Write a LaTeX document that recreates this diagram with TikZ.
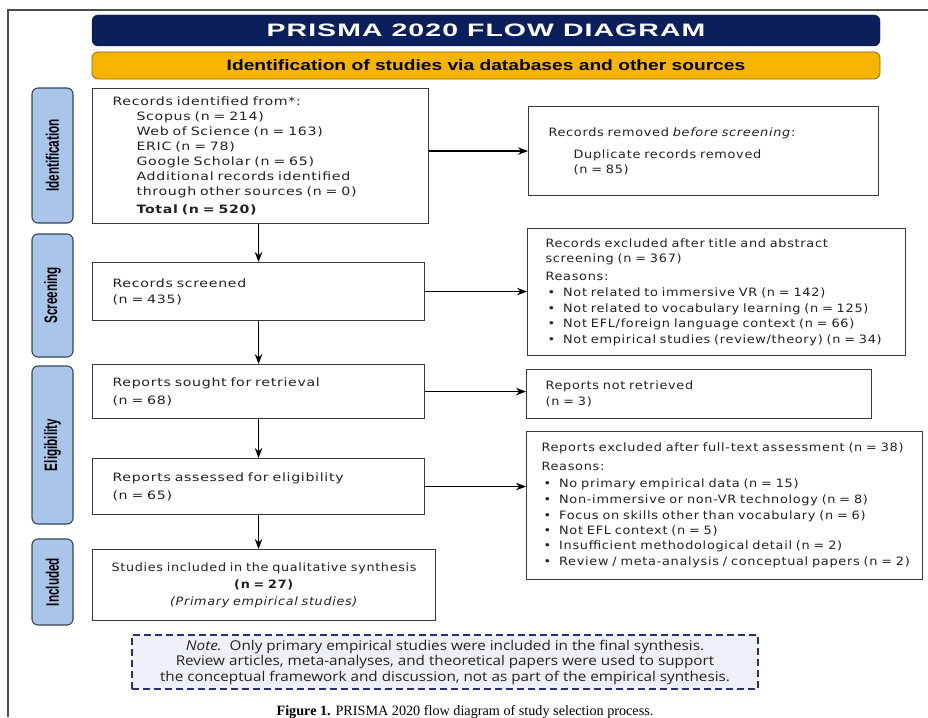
\documentclass[tikz,border=0pt]{standalone}
\usepackage{fontspec}
\setmainfont{DejaVu Sans}
\newfontfamily\leftfont{DejaVu Sans}[LetterSpace=6,FakeStretch=1.23]
\newfontfamily\rightfont{DejaVu Sans}[LetterSpace=6,FakeStretch=1.12]
\newfontfamily\finalfont{DejaVu Sans}[LetterSpace=6,FakeStretch=1.11]
\newfontfamily\titlefont{Liberation Sans}[LetterSpace=6,FakeStretch=1.58]
\newfontfamily\bandfont{Liberation Sans}[FakeStretch=1.28]
\newfontfamily\sidefont{Liberation Sans}[FakeStretch=0.65]
\newfontfamily\notefont{Open Sans}[FakeStretch=1.13]
\newfontfamily\capfont{Liberation Serif}
\usetikzlibrary{arrows.meta}

\definecolor{navy}{HTML}{0B1F5C}
\definecolor{amber}{HTML}{F6B400}
\definecolor{amberline}{HTML}{8C6A12}
\definecolor{sideblue}{HTML}{A9C6EA}
\definecolor{sideline}{HTML}{34465A}
\definecolor{boxline}{HTML}{3A3A3A}
\definecolor{notefill}{HTML}{EEF0F8}
\definecolor{noteline}{HTML}{26307A}
\definecolor{inkgray}{HTML}{222222}

\newcommand{\itm}{\hspace*{2pt}\textbullet\hspace{8pt}}

\tikzset{
  stage/.style={draw=boxline, line width=1.1pt, fill=white, anchor=north west,
    align=left, text=inkgray, inner ysep=0pt,
    font=\leftfont\fontsize{11.5}{15}\selectfont},
  outcome/.style={stage, font=\rightfont\fontsize{11.5}{15}\selectfont},
  phase/.style={draw=sideline, line width=1.1pt, fill=sideblue, rounded corners=6pt,
    rotate=90, minimum height=41pt, inner sep=0pt,
    font=\sidefont\bfseries\fontsize{18}{20}\selectfont},
  flow/.style={->, line width=1.2pt, black},
}

\begin{document}
\begin{tikzpicture}[x=1pt, y=-1pt, >={Stealth[length=10pt,width=7.5pt]}]
\useasboundingbox (0,0) rectangle (928,717);
\draw[gray!60!black, line width=1.2pt] (8,717) -- (8,10) -- (928,10);

% banners
\node[fill=navy, draw=navy!70!black, rounded corners=6pt, minimum width=788pt,
      minimum height=31pt, inner sep=0pt, text=white,
      font=\titlefont\bfseries\fontsize{18}{20}\selectfont] (title) at (486,30.5)
      {PRISMA 2020 FLOW DIAGRAM};
\node[fill=amber, draw=amberline, line width=0.8pt, rounded corners=6pt,
      minimum width=788pt, minimum height=27pt, inner sep=0pt,
      font=\bandfont\bfseries\fontsize{15}{17}\selectfont] (source) at (486,65.5)
      {Identification of studies via databases and other sources};

% phases
\node[phase, minimum width=135pt] (ident)  at (52.5,155.5) {Identification};
\node[phase, minimum width=123pt] (screen) at (52.5,295.5) {Screening};
\node[phase, minimum width=158pt] (elig)   at (52.5,445)   {Eligibility};
\node[phase, minimum width=86pt]  (incl)   at (52.5,582)   {Included};

% main column
\node[stage, minimum height=135pt, text width=296pt, inner xsep=20pt] (records) at (92,88)
  {Records identified from*:\\
   \hspace*{24pt}Scopus (n = 214)\\
   \hspace*{24pt}Web of Science (n = 163)\\
   \hspace*{24pt}ERIC (n = 78)\\
   \hspace*{24pt}Google Scholar (n = 65)\\
   \hspace*{24pt}Additional records identified\\
   \hspace*{24pt}through other sources (n = 0)\\[3pt]
   \hspace*{24pt}\textbf{Total (n = 520)}};
\node[stage, minimum height=58pt, text width=292pt, inner xsep=20pt] (screened) at (92,262)
  {Records screened\\[1pt] (n = 435)};
\node[stage, minimum height=54pt, text width=292pt, inner xsep=20pt] (sought) at (92,364)
  {Reports sought for retrieval\\[3pt] (n = 68)};
\node[stage, minimum height=56pt, text width=292pt, inner xsep=20pt] (assessed) at (92,458)
  {Reports assessed for eligibility\\[3pt] (n = 65)};
\node[stage, minimum height=71pt, text width=323pt, inner xsep=10pt, align=center,
      font=\finalfont\fontsize{11.5}{15}\selectfont] (included) at (92,549)
  {Studies included in the qualitative synthesis\\[2pt]
   \textbf{(n = 27)}\\[2pt]
   \textit{(Primary empirical studies)}};

% side column
\node[outcome, minimum height=89pt, text width=310pt, inner xsep=20pt] (removed) at (528,106)
  {Records removed \textit{before screening}:\\[7pt]
   \hspace*{25pt}Duplicate records removed\\
   \hspace*{25pt}(n = 85)};
\node[outcome, minimum height=127pt, text width=342pt, inner xsep=18pt] (excluded) at (527,228)
  {Records excluded after title and abstract\\
   screening (n = 367)\\[3pt]
   Reasons:\\[1pt]
   \itm Not related to immersive VR (n = 142)\\[1pt]
   \itm Not related to vocabulary learning (n = 125)\\
   \itm Not EFL/foreign language context (n = 66)\\[1pt]
   \itm Not empirical studies (review/theory) (n = 34)};
\node[outcome, minimum height=49pt, text width=307pt, inner xsep=19pt] (notret) at (526,369)
  {Reports not retrieved\\[1pt] (n = 3)};
\node[outcome, minimum height=148pt, text width=366pt, inner xsep=15pt] (fulltext) at (526,431)
  {\mbox{Reports excluded after full-text assessment (n = 38)}\\[4pt]
   Reasons:\\[2pt]
   \itm No primary empirical data (n = 15)\\[1pt]
   \itm Non-immersive or non-VR technology (n = 8)\\[1pt]
   \itm Focus on skills other than vocabulary (n = 6)\\
   \itm Not EFL context (n = 5)\\
   \itm Insufficient methodological detail (n = 2)\\[1pt]
   \itm \mbox{Review / meta-analysis / conceptual papers (n = 2)}};

% arrows
\draw[flow] (records.south -| screened.north) -- (screened.north);
\draw[flow] (screened.south) -- (sought.north);
\draw[flow] (sought.south) -- (assessed.north);
\draw[flow] (assessed.south) -- (assessed.south |- included.north);
\draw[flow] (records.east |- removed.west) -- (removed.west);
\draw[flow] (screened.east) -- (screened.east -| excluded.west);
\draw[flow] (sought.east) -- (sought.east -| notret.west);
\draw[flow] (assessed.east) -- (assessed.east -| fulltext.west);

% note and caption
\node[draw=noteline, dash pattern=on 7pt off 4pt, line width=1.1pt, fill=notefill,
      minimum width=626pt, minimum height=54pt, inner sep=0pt, align=center, text=inkgray,
      font=\notefont\fontsize{13.5}{15.5}\selectfont] (note) at (445,662)
  {\textit{Note.}\ \ Only primary empirical studies were included in the final synthesis.\\
   Review articles, meta-analyses, and theoretical papers were used to support\\
   the conceptual framework and discussion, not as part of the empirical synthesis.};
\node[anchor=base, font=\capfont\fontsize{14.2}{16}\selectfont] (caption) at (465,715)
  {\textbf{Figure 1.} PRISMA 2020 flow diagram of study selection process.};
\end{tikzpicture}
\end{document}
